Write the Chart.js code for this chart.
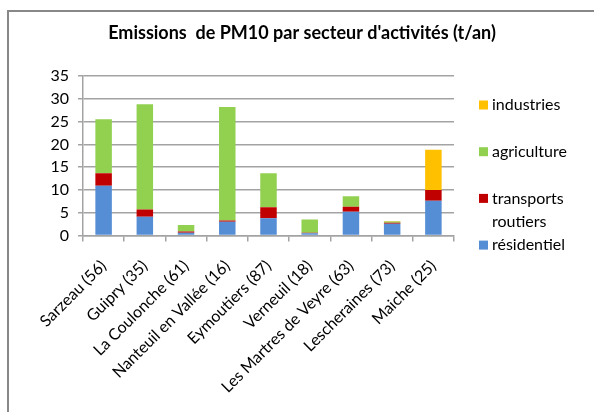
<!DOCTYPE html>
<html>
<head>
<meta charset="utf-8">
<script src="https://cdn.jsdelivr.net/npm/chart.js@4/dist/chart.umd.min.js"></script>
<style>
  html, body { margin: 0; padding: 0; background: #fff; }
  #wrap { position: relative; width: 594px; height: 412px; }
</style>
</head>
<body>
<div id="wrap"><canvas id="pm10" width="594" height="412"></canvas></div>
<script>
// données (t/an)
const communes = ['Sarzeau (56)', 'Guipry (35)', 'La Coulonche (61)', 'Nanteuil en Vallée (16)',
    'Eymoutiers (87)', 'Verneuil (18)', 'Les Martres de Veyre (63)', 'Lescheraines (73)', 'Maiche (25)'];
const residentiel = [10.9, 4.1, 0.6, 3.0, 3.8, 0.5, 5.2, 2.6, 7.6];
const transports = [2.75, 1.6, 0.3, 0.3, 2.4, 0.1, 1.1, 0.2, 2.4];
const agriculture = [11.85, 23.1, 1.4, 24.9, 7.45, 2.9, 2.3, 0.25, 0];
const industries = [0, 0, 0, 0, 0, 0, 0, 0.15, 8.8];
const yTicks = [0, 5, 10, 15, 20, 25, 30, 35];

const FONT = 'Lato, "Liberation Sans", sans-serif';
const GRID = '#a3a3a3';

// bordure, titre et légende façon Excel
const decor = {
    id: 'decor',
    beforeDraw(chart) {
        const ctx = chart.ctx;
        ctx.save();
        ctx.fillStyle = '#888';
        ctx.fillRect(7, 10, 2, chart.height - 10);
        ctx.fillRect(7, 10, chart.width - 7, 2);
        ctx.restore();
    },
    afterDraw(chart, args, opts) {
        const ctx = chart.ctx;
        ctx.save();
        ctx.fillStyle = '#000';
        ctx.font = 'bold 18px ' + FONT;
        ctx.textAlign = 'center';
        ctx.textBaseline = 'middle';
        ctx.fillText(opts.title, 302, 33);

        ctx.font = '16px ' + FONT;
        ctx.textAlign = 'left';
        const items = chart.data.datasets.slice().reverse();
        items.forEach((ds, i) => {
            const cy = 105 + i * 46.7;
            ctx.fillStyle = ds.backgroundColor;
            ctx.fillRect(479, cy - 4.5, 9, 9);
            ctx.fillStyle = '#000';
            // retour à la ligne si le libellé est trop long
            const words = ds.label.split(' ');
            let line = '', y = cy;
            words.forEach(w => {
                const test = line ? line + ' ' + w : w;
                if (line && ctx.measureText(test).width > 95) {
                    ctx.fillText(line, 492, y);
                    line = w;
                    y += 23.5;
                } else {
                    line = test;
                }
            });
            ctx.fillText(line, 492, y);
        });
        ctx.restore();
    }
};

new Chart(document.getElementById('pm10'), {
    type: 'bar',
    data: {
        labels: communes,
        datasets: [
            { label: 'résidentiel', data: residentiel, backgroundColor: '#558ed5' },
            { label: 'transports routiers', data: transports, backgroundColor: '#c00000' },
            { label: 'agriculture', data: agriculture, backgroundColor: '#92d050' },
            { label: 'industries', data: industries, backgroundColor: '#ffc000' }
        ]
    },
    options: {
        responsive: false,
        animation: false,
        barPercentage: 0.4,
        categoryPercentage: 1,
        layout: { padding: { top: 76, right: 140, bottom: 0, left: 0 } },
        plugins: {
            legend: { display: false },
            title: { display: false },
            tooltip: { enabled: false },
            decor: { title: "Emissions  de PM10 par secteur d'activités (t/an)" }
        },
        scales: {
            x: {
                stacked: true,
                afterFit: s => { s.height = 176.5; },
                grid: { offset: true, drawOnChartArea: false, color: GRID, lineWidth: 1.5, tickLength: 6 },
                border: { color: GRID, width: 1.5 },
                ticks: { maxRotation: 45, minRotation: 45, autoSkip: false, color: '#000', padding: 15,
                    font: { family: FONT, size: 16 } }
            },
            y: {
                stacked: true,
                min: 0, max: 35,
                afterFit: s => { s.width = 83; },
                afterBuildTicks: s => { s.ticks = yTicks.map(v => ({ value: v })); },
                grid: { color: GRID, lineWidth: 1.5, tickLength: 5 },
                border: { color: GRID, width: 1.5 },
                ticks: { color: '#000', padding: 9, font: { family: FONT, size: 16 } }
            }
        }
    },
    plugins: [decor]
});
</script>
</body>
</html>
